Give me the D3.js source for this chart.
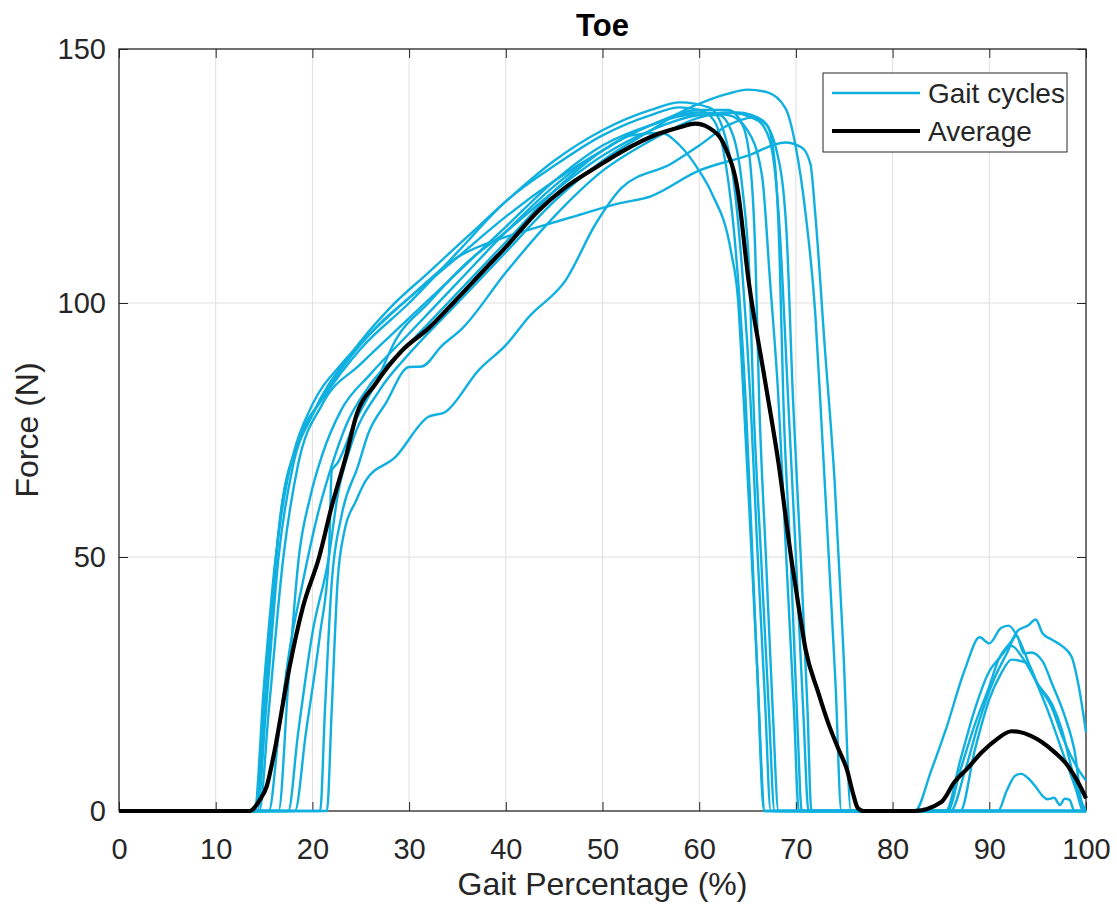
<!DOCTYPE html>
<html>
<head>
<meta charset="utf-8">
<script src="https://cdn.jsdelivr.net/npm/d3@7"></script>
<style>
	body { margin: 0; background: #fff; }
	text { font-family: "Liberation Sans", Arial, Helvetica, sans-serif; }
</style>
</head>
<body>
<svg id="chart" width="1117" height="907"></svg>
<script>
// ---- data: [gait %, force N] ----
let cycle01 = [[0,0],[14,0],[15,20],[16,45],[17,62],[18.5,72],[20,78],[23,87],[27,96],[30,101],[35,109],[40,117],[45,124],[50,130],[53,133],[56,133.5],[58,131],[60,126],[61.3,121.6],[63.3,110],[64,101],[64.6,81],[65.3,55],[66,28],[66.8,0],[100,0]];
let cycle02 = [[0,0],[14,0],[15,25],[16.2,50],[17.5,66],[19,75],[21,81],[25,91],[30,100],[35,110],[40,120],[45,127],[50,133],[55,137],[58,138.5],[60,138],[61.5,136],[62.5,130],[63.5,116],[64.2,100],[64.8,81],[65.4,55],[66,28],[66.7,0],[90.9,0],[91.8,4],[92.7,7],[93.3,7.3],[94,6.5],[94.7,5],[95.5,3],[96,2.3],[96.7,2.6],[97.3,1.2],[97.8,2.4],[98.3,2.2],[98.8,0],[100,0]];
let cycle03 = [[0,0],[14.3,0],[15.2,20],[16.5,50],[18,68],[20,78],[24,90],[28,99],[32,106],[36,113],[40,120],[45,128],[50,134],[55,138],[58,139.5],[61,138.5],[62.5,134],[63.5,125],[64.5,105],[65.3,81],[66,52],[66.8,22],[67.4,0],[82.3,0],[84,8],[85.5,16],[87.5,28],[89,34.2],[90,33],[91.2,36],[92,36.5],[93,34],[94.5,27],[96,20],[97.5,12],[99,4],[99.7,0],[100,0]];
let cycle04 = [[0,0],[14.5,0],[15.5,20],[17,50],[18.5,68],[21,80],[25,88],[30,97],[35,106],[40,115],[45,124],[50,131],[55,135],[59,137],[62,137],[63.5,133],[64.5,122],[65.2,105],[65.6,81],[66.4,50],[67.2,20],[67.8,0],[100,0]];
let cycle05 = [[0,0],[16.5,0],[17.5,25],[18.6,50],[19.8,62],[21,70],[23,79],[26,86],[30,94],[35,104],[40,114],[45,123],[50,130],[55,135],[60,138],[63,138],[64.5,135],[65.3,127],[65.8,110],[66.2,81],[66.9,50],[67.6,20],[68.2,0],[85.5,0],[87,10],[88.5,20],[90,27.5],[91,30],[92.3,32.5],[93.5,30],[95,25],[96.5,21],[97.5,16],[98.7,7],[99.5,2],[100,0]];
let cycle06 = [[0,0],[17.5,0],[18.5,15],[20,35],[21.7,50],[22.6,62],[24,72],[27,83],[30,90],[35,100],[40,110],[45,120],[50,128],[55,134],[58,137.5],[61,140],[63,141.2],[65,142],[67,141.5],[68.9,138.4],[70,130.6],[71,117.6],[72,98],[72.6,78],[73.4,50],[74.1,25],[74.7,0],[85.7,0],[87,8],[88.5,17],[89.9,24],[91,30],[92.3,33.5],[93,35.6],[94,36.5],[94.8,37.7],[95.5,35],[96.4,33.8],[97.5,32.5],[98.5,30.4],[99.3,24],[100,15.5]];
let cycle07 = [[0,0],[14,0],[15.5,30],[16.5,55],[18,70],[20,80],[23,88],[26,94],[30,101],[35,109],[40,113],[43.4,115],[47,117],[51.7,119.6],[55,121],[59.9,126],[65,129],[68.9,131.6],[70.6,130.6],[71.5,127.4],[72,117.6],[73,91],[74,65],[74.9,32],[75.7,0],[100,0]];
let cycle08 = [[0,0],[21.5,0],[22,20],[22.6,45],[23.3,55],[24.5,61],[25.5,65],[28.6,69.7],[32,77.6],[33.7,78.5],[37.2,86.8],[40,91.7],[42.4,97.3],[46.2,104.5],[49.3,115.6],[52,122.7],[57.1,127.4],[60,131],[63,135],[65.5,136.5],[67,135],[67.8,128],[68.3,110],[68.7,81],[69.5,48],[70.2,15],[70.6,0],[100,0]];
let cycle09 = [[0,0],[20.8,0],[21.3,20],[22,45],[23,58],[24.7,67.8],[25.8,74.4],[27.6,80.3],[30,87.4],[31.3,87.5],[33.4,91.6],[35.5,95],[40,106],[45,117],[50,126],[55,132],[60,136.5],[63,137.5],[66,136],[67.3,132],[68.2,118],[69.2,81],[70,50],[70.8,18],[71.3,0],[86,0],[87.5,8],[89,18],[90.5,26],[91.8,31],[92.8,34.5],[93.6,31],[94.3,31.2],[95.5,29.5],[96.5,25],[97.8,18.7],[98.8,12],[99.8,0],[100,0]];
let cycle10 = [[0,0],[18.2,0],[19.3,15],[20.8,35],[21.7,50],[22,67],[22.6,68.5],[24.5,77],[26.5,84],[28.6,92.7],[32,100],[36,108],[40,114],[45,122],[50,129],[55,134],[60,137],[64,137.5],[66.5,136],[68,130],[69,115],[69.7,81],[70.5,50],[71.2,20],[71.6,0],[87,0],[88.5,12],[90,22],[91.2,27],[92.3,29.8],[93.3,29.5],[94,29],[95,25],[96.4,20.6],[97.7,14],[99.2,8.2],[100,6]];
let cycle11 = [[0,0],[15.5,0],[16.5,15],[17.5,30],[19,45],[20.5,58],[22,68],[23.5,76],[26,84],[30,92],[35,102],[40,112],[45,122],[50,130],[55,135],[60,137.5],[63,137],[65,134],[66.5,125],[67.3,105],[68.2,81],[69,50],[69.8,20],[70.3,0],[100,0]];

let average = [[0,0],[13.5,0],[14.5,2],[15.3,5],[16,11],[17.6,28],[19,40],[20.7,50],[22,60],[23.5,70],[24.5,77.6],[26.5,84],[29.3,90.7],[32,95],[34.8,100.5],[38,107],[40,111],[43.4,118.2],[46,122.5],[49.6,127],[52,129.8],[55.8,133.3],[58,134.6],[59.6,135.3],[61,134.5],[62.7,130.6],[64,122],[65.1,104.5],[66.8,84.8],[68.2,68.5],[69.5,50],[70.3,40],[71,31.8],[72.3,23.4],[73.4,17],[74.4,12.2],[75.3,8],[75.9,3.5],[76.4,0.6],[77,0],[82.3,0],[85,1.7],[86.4,5.7],[87.8,8.5],[89.2,11.5],[90.7,14],[92.3,15.7],[93,15.6],[94.3,14.8],[95.5,13.5],[96.8,11.5],[98,9.2],[98.8,6.9],[99.5,4.5],[100,2.5]];

let cycles = [cycle01, cycle02, cycle03, cycle04, cycle05, cycle06, cycle07, cycle08, cycle09, cycle10, cycle11];

let xTicks = [0, 10, 20, 30, 40, 50, 60, 70, 80, 90, 100];
let yTicks = [0, 50, 100, 150];
let legendLabels = ["Gait cycles", "Average"];

// ---- layout ----
let margin = { left: 119, right: 31, top: 49, bottom: 96 };
let size = { w: 1117 - margin.left - margin.right, h: 907 - margin.top - margin.bottom };
let axisColor = "#262626";
let blue = "#0fb0e0";

let svg = d3.select("#chart");
let containerG = svg.append("g").attr("transform", `translate(${margin.left}, ${margin.top})`);

let x = d3.scaleLinear().domain([0, 100]).range([0, size.w]);
let y = d3.scaleLinear().domain([0, 150]).range([size.h, 0]);

// grid lines
containerG.append("g")
	.selectAll("line")
	.data(xTicks.slice(1, -1))
	.join("line")
	.attr("x1", (d) => x(d)).attr("x2", (d) => x(d))
	.attr("y1", 0).attr("y2", size.h)
	.attr("stroke", "#dfdfdf").attr("stroke-width", 1);
containerG.append("g")
	.selectAll("line")
	.data(yTicks.slice(1, -1))
	.join("line")
	.attr("x1", 0).attr("x2", size.w)
	.attr("y1", (d) => y(d)).attr("y2", (d) => y(d))
	.attr("stroke", "#dfdfdf").attr("stroke-width", 1);

// axes, ticks inward on all four sides (box on)
let tickLen = 9;
let styleAxis = (g) => {
	g.select(".domain").remove();
	g.selectAll(".tick line").attr("stroke", axisColor);
	g.selectAll(".tick text")
		.attr("fill", axisColor)
		.style("font-size", "29px")
		.style("font-family", "'Liberation Sans', Arial, sans-serif");
};

containerG.append("g")
	.attr("transform", `translate(0, ${size.h})`)
	.call(d3.axisBottom(x).tickValues(xTicks).tickSizeInner(-tickLen).tickSizeOuter(0).tickPadding(27))
	.call(styleAxis);
containerG.append("g")
	.call(d3.axisTop(x).tickValues(xTicks).tickSizeInner(-tickLen).tickSizeOuter(0).tickFormat(""))
	.call(styleAxis);
containerG.append("g")
	.call(d3.axisLeft(y).tickValues(yTicks).tickSizeInner(-tickLen).tickSizeOuter(0).tickPadding(13))
	.call(styleAxis);
containerG.append("g")
	.attr("transform", `translate(${size.w}, 0)`)
	.call(d3.axisRight(y).tickValues(yTicks).tickSizeInner(-tickLen).tickSizeOuter(0).tickFormat(""))
	.call(styleAxis);

containerG.append("rect")
	.attr("width", size.w).attr("height", size.h)
	.attr("fill", "none").attr("stroke", axisColor).attr("stroke-width", 1.3);

// data lines
let line = d3.line()
	.x((d) => x(d[0]))
	.y((d) => y(d[1]))
	.curve(d3.curveMonotoneX);

containerG.append("g")
	.selectAll("path")
	.data(cycles)
	.join("path")
	.attr("d", line)
	.attr("fill", "none")
	.attr("stroke", blue)
	.attr("stroke-width", 2.4)
	.attr("stroke-linejoin", "round");

containerG.append("path")
	.datum(average)
	.attr("d", line)
	.attr("fill", "none")
	.attr("stroke", "#000")
	.attr("stroke-width", 4.2)
	.attr("stroke-linejoin", "round");

// title + labels
svg.append("text")
	.attr("x", margin.left + size.w / 2)
	.attr("y", 36)
	.attr("text-anchor", "middle")
	.style("font-size", "31px")
	.style("font-weight", "bold")
	.text("Toe");

svg.append("text")
	.attr("x", margin.left + size.w / 2)
	.attr("y", 895)
	.attr("text-anchor", "middle")
	.attr("fill", axisColor)
	.style("font-size", "32px")
	.text("Gait Percentage (%)");

svg.append("text")
	.attr("transform", `translate(38, ${margin.top + size.h / 2}) rotate(-90)`)
	.attr("text-anchor", "middle")
	.attr("fill", axisColor)
	.style("font-size", "32px")
	.text("Force (N)");

// legend
let legendG = svg.append("g").attr("transform", "translate(823, 73)");
legendG.append("rect")
	.attr("width", 244).attr("height", 79)
	.attr("fill", "#fff").attr("stroke", axisColor).attr("stroke-width", 1);

let legendItems = legendG.selectAll("g.item")
	.data(legendLabels)
	.join("g")
	.classed("item", true)
	.attr("transform", (d, i) => `translate(0, ${20 + i * 38})`);

legendItems.append("line")
	.attr("x1", 9).attr("x2", 97)
	.attr("stroke", (d, i) => (i === 0 ? blue : "#000"))
	.attr("stroke-width", (d, i) => (i === 0 ? 2.4 : 4.2));

legendItems.append("text")
	.attr("x", 105)
	.attr("y", 10)
	.attr("fill", axisColor)
	.style("font-size", "28px")
	.text((d) => d);
</script>
</body>
</html>
